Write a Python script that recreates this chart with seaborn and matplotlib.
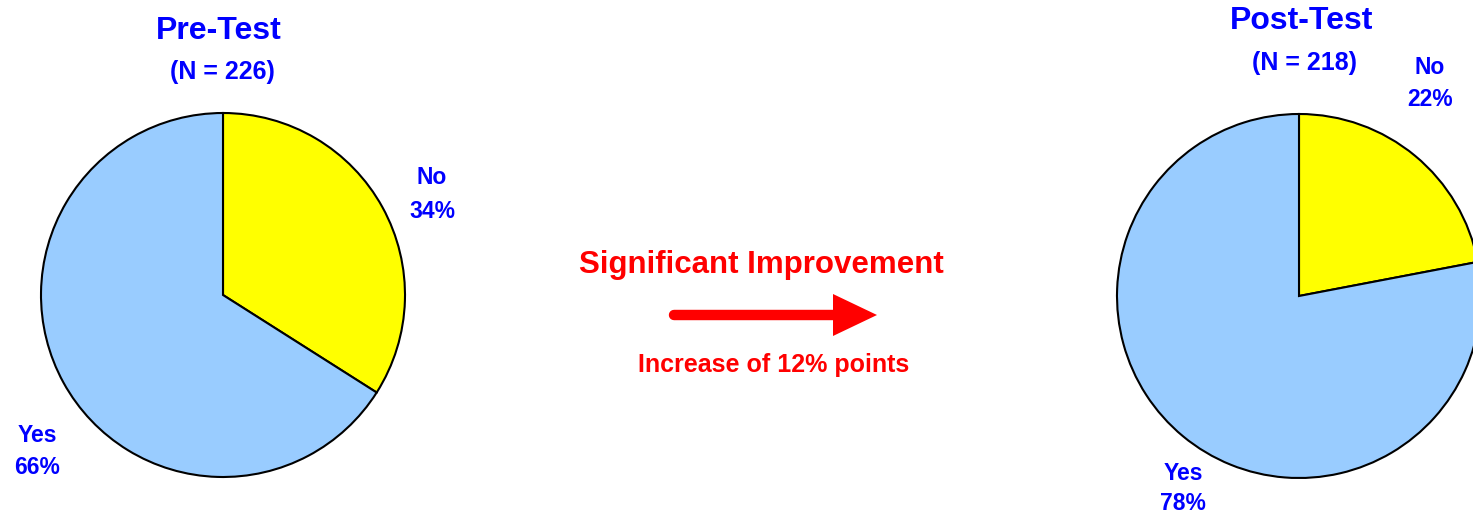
import matplotlib
matplotlib.use("Agg")
import matplotlib.pyplot as plt
import seaborn as sns

# ---------------------------
# Data
# ---------------------------
groups = ["Pre-Test", "Post-Test"]
n_values = [226, 218]
answers = ["No", "Yes"]
pre_pct = [34, 66]
post_pct = [22, 78]
headline = "Significant Improvement"
change_note = "Increase of 12% points"

# ---------------------------
# Style
# ---------------------------
sns.set_theme(style="white")
plt.rcParams["font.family"] = ["Liberation Sans", "DejaVu Sans"]
plt.rcParams["font.weight"] = "bold"

blue = "#0000FF"
red = "#FF0000"
pie_colors = ["#FFFF00", "#99CCFF"]

W, H = 1473, 515
fig = plt.figure(figsize=(W / 100, H / 100), dpi=100)
ax = fig.add_axes([0, 0, 1, 1])

# pie centres / radius in pixel space (y up)
centers = [(223, H - 295), (1299, H - 296)]
radius = 182

for pct, c in zip([pre_pct, post_pct], centers):
    ax.pie(pct, colors=pie_colors, startangle=90, counterclock=False,
           center=c, radius=radius, frame=True,
           wedgeprops=dict(edgecolor="black", linewidth=1.5))

# titles
title_pos = [(219, 31), (1302, 21)]
n_pos = [(222, 72), (1305, 63)]
for g, n, tp, np_ in zip(groups, n_values, title_pos, n_pos):
    ax.text(tp[0], H - tp[1], g, color=blue, fontsize=23, fontweight="bold",
            ha="center", va="center")
    ax.text(np_[0], H - np_[1], f"(N = {n})", color=blue, fontsize=18,
            fontweight="bold", ha="center", va="center")

# slice labels (label, percent) positions
label_pos = [
    [(432, 178, 212), (37, 436, 467)],
    [(1430, 68, 100), (1183, 473, 503)],
]
for pct, lp in zip([pre_pct, post_pct], label_pos):
    for ans, val, (x, y1, y2) in zip(answers, pct, lp):
        ax.text(x, H - y1, ans, color=blue, fontsize=16.5, fontweight="bold",
                ha="center", va="center")
        ax.text(x, H - y2, f"{val}%", color=blue, fontsize=16.5,
                fontweight="bold", ha="center", va="center")

# middle annotation
ax.text(761, H - 265, headline, color=red, fontsize=22.5, fontweight="bold",
        ha="center", va="center")
ax.text(774, H - 365, change_note, color=red, fontsize=18, fontweight="bold",
        ha="center", va="center")
ax.plot([674, 836], [H - 315, H - 315], color=red, lw=7.5,
        solid_capstyle="round")
ax.fill([833, 877, 833], [H - 294, H - 315, H - 336], color=red, lw=0)

ax.set_xlim(0, W)
ax.set_ylim(0, H)
ax.axis("off")

fig.savefig("out.png", dpi=100, facecolor="white")
